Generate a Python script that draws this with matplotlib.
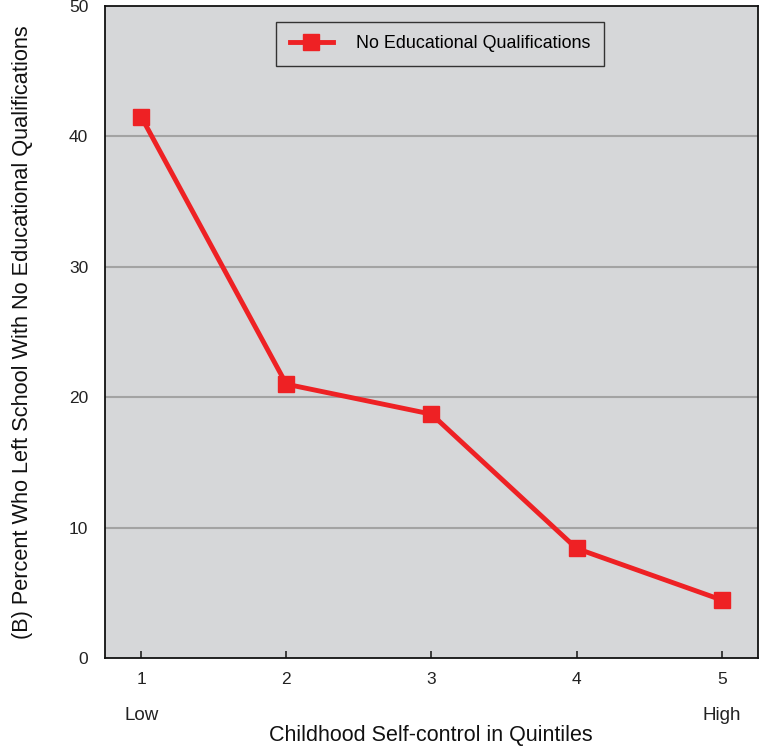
import numpy as np
import matplotlib.pyplot as plt
from matplotlib import transforms

plt.rcParams['font.family'] = ['Liberation Sans', 'DejaVu Sans']

# datos
quintiles = [1, 2, 3, 4, 5]
porcentaje = [41.5, 21.0, 18.7, 8.4, 4.45]
ytick_vals = [0, 10, 20, 30, 40, 50]

rojo = '#ee2124'
fondo = '#d6d7d9'

fig = plt.figure(figsize=(7.59, 7.51), dpi=100)
ax = fig.add_axes([0.1383, 0.1238, 0.8604, 0.8682])
ax.set_facecolor(fondo)

for y in ytick_vals[1:-1]:
    ax.axhline(y, color='#a3a3a3', lw=1.5, zorder=1)

ax.plot(quintiles, porcentaje, color=rojo, lw=3.5, marker='s', markersize=11,
        label='No Educational Qualifications', zorder=3)

ax.set_xlim(0.75, 5.25)
ax.set_ylim(0, 50)
ax.set_xticks(quintiles)
ax.set_yticks(ytick_vals)
ax.tick_params(axis='x', direction='in', length=5, width=1.2, pad=10, labelsize=12.5, colors='#222222')
ax.tick_params(axis='y', length=0, pad=12, labelsize=12.5, colors='#222222')
for s in ax.spines.values():
    s.set_linewidth(1.3)
    s.set_color('#111111')

# etiquetas Low / High debajo de los ticks
tr = transforms.blended_transform_factory(ax.transData, fig.transFigure)
ax.text(1, 1 - 716/751, 'Low', ha='center', va='center', fontsize=13.5, color='#222222', transform=tr)
ax.text(5, 1 - 716/751, 'High', ha='center', va='center', fontsize=13.5, color='#222222', transform=tr)

fig.text(0.567, 1 - 735/751, 'Childhood Self-control in Quintiles', ha='center', va='center',
         fontsize=15.5, color='#111111')
fig.text(23/759, 1 - 332/751, '(B) Percent Who Left School With No Educational Qualifications',
         ha='center', va='center', rotation=90, fontsize=15.7, color='#111111')

leg = ax.legend(loc='upper left', bbox_to_anchor=((276-105)/652, (658-22)/652), fontsize=12.9,
                fancybox=False, edgecolor='#333333', facecolor=fondo, framealpha=1,
                handlelength=2.4, borderpad=0.75, handletextpad=1.3, borderaxespad=0)
leg.get_frame().set_linewidth(1.0)

plt.savefig('out.png', dpi=100)
